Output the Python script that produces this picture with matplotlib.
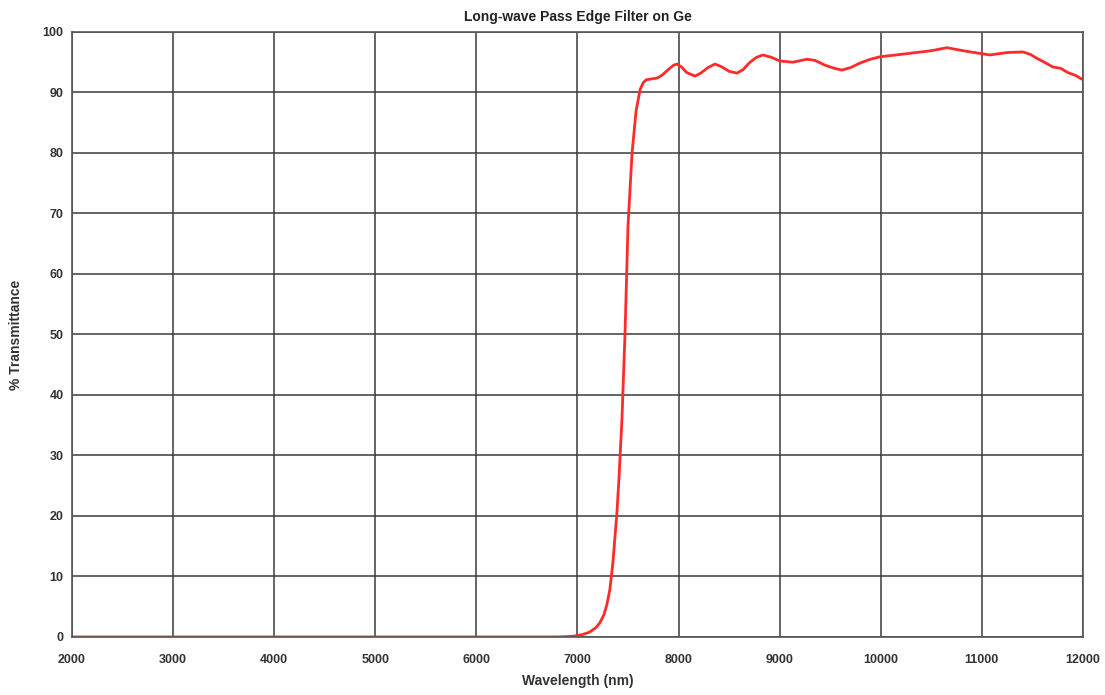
import matplotlib
matplotlib.use("Agg")
import matplotlib.pyplot as plt

# wavelength (nm) and % transmittance
wavelength = [2000, 6800, 6950, 7050, 7120, 7180, 7220, 7260, 7290, 7320,
              7350, 7390, 7410, 7440, 7470, 7500, 7540, 7580, 7620, 7650,
              7680, 7720, 7790, 7840, 7900, 7950, 7985, 8030, 8080, 8163,
              8220, 8290, 8360, 8420, 8500, 8578, 8640, 8700, 8770, 8835,
              8920, 9003, 9131, 9270, 9350, 9450, 9540, 9616, 9700, 9800,
              9900, 9992, 10150, 10300, 10500, 10655, 10850, 11080, 11250, 11407,
              11480, 11550, 11630, 11703, 11780, 11850, 11930, 12000]
transmittance = [0, 0, 0.1, 0.4, 0.8, 1.5, 2.3, 3.6, 5.3, 7.8,
                 12.2, 20.5, 26, 36, 50, 68, 80, 87, 90.5, 91.6,
                 92.1, 92.2, 92.4, 92.9, 93.8, 94.5, 94.7, 94.2, 93.3, 92.7,
                 93.2, 94.1, 94.7, 94.3, 93.5, 93.2, 93.8, 94.9, 95.8, 96.2,
                 95.8, 95.2, 95.0, 95.5, 95.3, 94.5, 94.0, 93.7, 94.1, 94.9,
                 95.5, 95.9, 96.2, 96.5, 96.9, 97.4, 96.8, 96.2, 96.6, 96.7,
                 96.3, 95.6, 94.9, 94.2, 94.0, 93.3, 92.8, 92.1]

x_ticks = list(range(2000, 12001, 1000))
y_ticks = list(range(0, 101, 10))

plt.rcParams['font.family'] = ['Liberation Sans', 'DejaVu Sans']

fig = plt.figure(figsize=(11.05, 6.95), dpi=100)
ax = fig.add_axes([0.0652, 0.0835, 0.9148, 0.8705])

ax.plot(wavelength, transmittance, color='#ff2a2a', lw=2)

ax.set_xlim(2000, 12000)
ax.set_ylim(0, 100)
ax.set_xticks(x_ticks)
ax.set_yticks(y_ticks)
ax.grid(True, color='#3a3a3a', lw=1.1)
ax.set_axisbelow(True)
ax.tick_params(axis='y', length=0, labelsize=9, colors='#333333', pad=6)
ax.tick_params(axis='x', length=0, labelsize=9, colors='#333333', pad=12)
for lab in ax.get_xticklabels() + ax.get_yticklabels():
    lab.set_fontweight('bold')
for s in ax.spines.values():
    s.set_color('#555555')
    s.set_linewidth(1.2)

ax.set_title('Long-wave Pass Edge Filter on Ge', fontsize=10, fontweight='bold',
             color='#222222', pad=8)
ax.set_xlabel('Wavelength (nm)', fontsize=10, fontweight='bold', color='#333333', labelpad=6)
ax.set_ylabel('% Transmittance', fontsize=10, fontweight='bold', color='#333333', labelpad=14)

fig.savefig('out.png', dpi=100)
